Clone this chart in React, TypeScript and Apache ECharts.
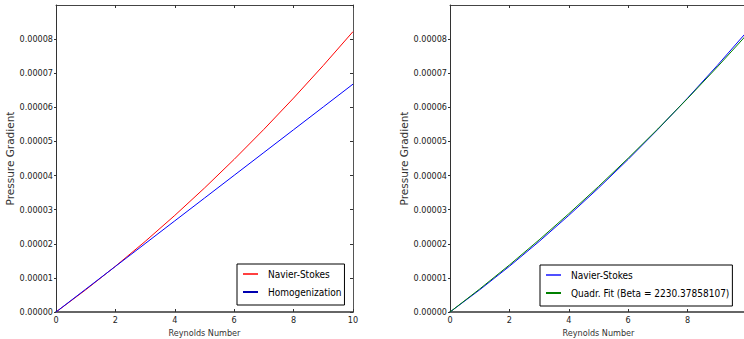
import React, { useEffect, useRef } from "react";
import * as echarts from "echarts";

const reynolds = [0, 1, 2, 3, 4, 5, 6, 7, 8, 9, 10];
const navierStokes = [0, 0.00000651, 0.0000134, 0.00002067, 0.00002832, 0.00003635, 0.00004476, 0.00005355, 0.00006272, 0.00007227, 0.0000822];
const homogenization = [0, 0.00000668, 0.00001336, 0.00002004, 0.00002672, 0.0000334, 0.00004008, 0.00004676, 0.00005344, 0.00006012, 0.0000668];
const quadrFit = [0, 0.00000674, 0.00001378, 0.00002114, 0.00002881, 0.00003679, 0.00004509, 0.00005369, 0.0000626, 0.00007183, 0.00008137];

const leftNames = ["Navier-Stokes", "Homogenization"];
const rightNames = ["Navier-Stokes", "Quadr. Fit (Beta = 2230.37858107)"];
const xTitle = "Reynolds Number";
const yTitle = "Pressure Gradient";

const FONT = "'DejaVu Sans Condensed', 'DejaVu Sans', sans-serif";

function pts(arr: number[]) {
  return reynolds.map((x, i) => [x, arr[i]]);
}

export default function App() {
  const ref = useRef<HTMLDivElement>(null);
  useEffect(() => {
    if (!ref.current) return;
    const chart = echarts.init(ref.current, undefined, { renderer: "svg" });
    const grids = [
      { left: 56, top: 5, width: 297, height: 307, outerBoundsMode: "none", containLabel: false },
      { left: 450, top: 5, width: 297, height: 307, outerBoundsMode: "none", containLabel: false },
    ];
    const xAxes: any[] = [];
    const yAxes: any[] = [];
    [0, 1].forEach((g) => {
      xAxes.push({
        type: "value", gridIndex: g, min: 0, max: 10, interval: 2, position: "bottom",
        name: xTitle, nameLocation: "middle", nameGap: 15,
        nameTextStyle: { fontSize: 9, fontFamily: FONT, color: "#333" },
        axisLine: { show: true, onZero: false, lineStyle: { color: "#666", width: 2 } },
        axisTick: { show: true, inside: true, length: 3, lineStyle: { color: "#333" } },
        axisLabel: { fontSize: 9, fontFamily: FONT, color: "#222", margin: 3, showMaxLabel: g === 0 },
        splitLine: { show: false },
      });
      xAxes.push({
        type: "value", gridIndex: g, min: 0, max: 10, interval: 2, position: "top",
        axisLine: { show: true, onZero: false, lineStyle: { color: "#444", width: 1 } },
        axisTick: { show: true, inside: true, length: 3, lineStyle: { color: "#333" } },
        axisLabel: { show: false },
        splitLine: { show: false },
      });
      yAxes.push({
        type: "value", gridIndex: g, min: 0, max: 0.00009, interval: 0.00001, position: "left",
        name: yTitle, nameLocation: "middle", nameGap: 31,
        nameTextStyle: { fontSize: 10.5, fontFamily: "'DejaVu Sans', sans-serif", color: "#333" },
        axisLine: { show: true, onZero: false, lineStyle: { color: "#333", width: 1 } },
        axisTick: { show: true, inside: false, length: 2, lineStyle: { color: "#333" } },
        axisLabel: {
          fontSize: 9, fontFamily: FONT, color: "#222", margin: 3, showMaxLabel: false,
          formatter: (v: number) => (v > 0.000085 ? "" : v.toFixed(5)),
        },
        splitLine: { show: false },
      });
      yAxes.push({
        type: "value", gridIndex: g, min: 0, max: 0.00009, interval: 0.00001, position: "right",
        axisLine: { show: true, onZero: false, lineStyle: { color: "#555", width: 1 } },
        axisTick: { show: true, inside: true, length: 3, lineStyle: { color: "#333" } },
        axisLabel: { show: false },
        splitLine: { show: false },
      });
    });
    const line = (name: string, data: number[], color: string, axisIdx: number) => ({
      type: "line", name, data: pts(data), xAxisIndex: axisIdx * 2, yAxisIndex: axisIdx * 2,
      symbol: "none", showSymbol: false, smooth: false,
      lineStyle: { color, width: 1 }, itemStyle: { color },
    });
    const legendBase = {
      orient: "vertical", selectedMode: false, icon: "rect",
      borderColor: "#000", borderWidth: 1, padding: [4, 3, 7, 6], itemGap: 6,
      itemWidth: 15, itemHeight: 2,
      textStyle: { fontSize: 10, fontFamily: FONT, color: "#000", padding: [0, 0, 0, 5], lineHeight: 12 },
    };
    chart.setOption({
      animation: false,
      backgroundColor: "#fff",
      grid: grids,
      xAxis: xAxes,
      yAxis: yAxes,
      legend: [
        {
          ...legendBase, left: 237, top: 264,
          data: [
            { name: leftNames[0], itemStyle: { color: "#ff4040" } },
            { name: leftNames[1], itemStyle: { color: "#0000b0" } },
          ],
        },
        {
          ...legendBase, left: 540, top: 265,
          data: [
            { name: rightNames[0], itemStyle: { color: "#5050ff" } },
            { name: rightNames[1], itemStyle: { color: "#008000" } },
          ],
        },
      ],
      series: [
        line(leftNames[0], navierStokes, "#ff0000", 0),
        line(leftNames[1], homogenization, "#0000ff", 0),
        line(rightNames[0], navierStokes, "#0000ff", 1),
        line(rightNames[1], quadrFit, "#008000", 1),
      ],
    });
    return () => chart.dispose();
  }, []);
  return <div ref={ref} style={{ position: "fixed", left: 0, top: 0, width: 744, height: 339 }} />;
}
